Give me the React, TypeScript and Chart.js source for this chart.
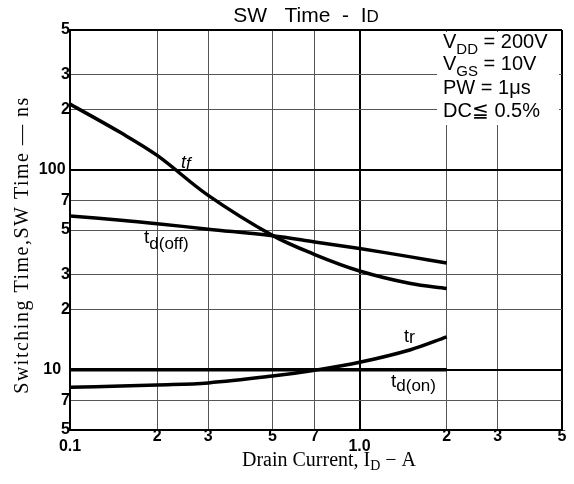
import React, { useEffect, useRef } from "react";
import { Chart, registerables } from "chart.js";

Chart.register(...registerables);

// ---- data ----
const drainCurrentA = [0.1, 0.15, 0.2, 0.3, 0.5, 0.7, 1.0, 1.5, 2];
const tfNs = [213, 153, 118, 74.5, 47, 37.7, 31.2, 27, 25.5];
const tdOffNs = [58.7, 56, 53.8, 50.5, 46.8, 43.6, 40.4, 36.7, 34.2];
const trNs = [8.17, 8.3, 8.4, 8.6, 9.3, 9.95, 10.9, 12.6, 14.6];
const tdOnNs = [10, 10, 10, 10, 10, 10, 10, 10, 10];

const xTickValues = [0.1, 0.2, 0.3, 0.5, 0.7, 1, 2, 3, 5];
const xTickLabels: (string | string[])[] = [["", "0.1"], "2", "3", "5", "7", ["", "1.0"], "2", "3", "5"];
const yTickValues = [5, 7, 10, 20, 30, 50, 70, 100, 200, 300, 500];
const yTickLabels = ["5", "7", "10  ", "2", "3", "5", "7", "100 ", "2", "3", "5"];

const conditionLines = [
  [{ t: "V", sub: false }, { t: "DD", sub: true }, { t: " = 200V", sub: false }],
  [{ t: "V", sub: false }, { t: "GS", sub: true }, { t: " = 10V", sub: false }],
  [{ t: "PW = 1\u03BCs", sub: false }],
  [{ t: "DC\u2266 0.5%", sub: false }],
];

const SANS = "'Liberation Sans', Arial, sans-serif";
const SERIF = "'Liberation Serif', 'Times New Roman', serif";

type Part = { t: string; font: string; dy?: number };

function drawParts(ctx: CanvasRenderingContext2D, parts: Part[], x: number, y: number, align: "left" | "center" = "left") {
  let total = 0;
  for (const p of parts) {
    ctx.font = p.font;
    total += ctx.measureText(p.t).width;
  }
  let cx = align === "center" ? x - total / 2 : x;
  ctx.textAlign = "left";
  ctx.textBaseline = "alphabetic";
  for (const p of parts) {
    ctx.font = p.font;
    ctx.fillText(p.t, cx, y + (p.dy || 0));
    cx += ctx.measureText(p.t).width;
  }
}

const textPlugin = {
  id: "textPlugin",
  beforeDatasetsDraw(chart: any) {
    const { ctx, chartArea } = chart;
    ctx.save();
    ctx.fillStyle = "#fff";
    ctx.fillRect(chartArea.right - 125, chartArea.top + 2, 122, 93);
    ctx.restore();
  },
  afterDatasetsDraw(chart: any) {
    const { ctx, chartArea } = chart;
    ctx.save();
    ctx.fillStyle = "#000";

    // title
    drawParts(ctx, [
      { t: "SW   Time  -  I", font: `21px ${SANS}` },
      { t: "D", font: `17px ${SANS}` },
    ], 306, 22, "center");

    // test conditions
    const baseX = chartArea.right - 119;
    const baselines = [48, 70, 94, 117];
    conditionLines.forEach((line, i) => {
      drawParts(
        ctx,
        line.map((p) => ({ t: p.t, font: p.sub ? `15px ${SANS}` : `20px ${SANS}`, dy: p.sub ? 6 : 0 })),
        baseX,
        baselines[i]
      );
    });

    // curve labels
    drawParts(ctx, [
      { t: "t", font: `italic 18px ${SANS}` },
      { t: "f", font: `italic 17px ${SANS}`, dy: 1 },
    ], 181, 168);
    drawParts(ctx, [
      { t: "t", font: `19px ${SANS}` },
      { t: "d(off)", font: `17px ${SANS}`, dy: 6 },
    ], 144, 243);
    drawParts(ctx, [
      { t: "t", font: `18px ${SANS}` },
      { t: "r", font: `18px ${SANS}`, dy: 1 },
    ], 404, 342);
    drawParts(ctx, [
      { t: "t", font: `19px ${SANS}` },
      { t: "d(on)", font: `17px ${SANS}`, dy: 4 },
    ], 391, 387);

    // x axis title
    drawParts(ctx, [
      { t: "Drain Current, I", font: `20px ${SERIF}` },
      { t: "D", font: `14px ${SERIF}`, dy: 4 },
      { t: " \u2212 A", font: `20px ${SERIF}` },
    ], 329, 466, "center");

    // y axis title
    ctx.translate(28, 245);
    ctx.rotate(-Math.PI / 2);
    (ctx as any).letterSpacing = "1.5px";
    drawParts(ctx, [{ t: "Switching Time,SW Time \u2014 ns", font: `20px ${SERIF}` }], 0, 0, "center");
    (ctx as any).letterSpacing = "0px";
    ctx.restore();
  },
};

function isDecade(v: number) {
  return v === 1 || v === 10 || v === 100;
}

export default function App() {
  const ref = useRef<HTMLCanvasElement | null>(null);

  useEffect(() => {
    if (!ref.current) return;
    const line = (data: number[]) => ({
      data: drainCurrentA.map((x, i) => ({ x, y: data[i] })),
      borderColor: "#000",
      borderWidth: 3.5,
      pointRadius: 0,
      fill: false,
      tension: 0.35,
    });
    const chart = new Chart(ref.current, {
      type: "line",
      data: {
        datasets: [line(tfNs), line(tdOffNs), line(trNs), line(tdOnNs)],
      },
      options: {
        animation: false,
        responsive: false,
        layout: { padding: { top: 30, right: 12, left: 0, bottom: 0 } },
        plugins: { legend: { display: false }, title: { display: false }, tooltip: { enabled: false } },
        scales: {
          x: {
            type: "logarithmic",
            min: 0.1,
            max: 5,
            afterBuildTicks: (s: any) => {
              s.ticks = xTickValues.map((v) => ({ value: v }));
            },
            afterFit: (s: any) => {
              s.height = 54;
            },
            ticks: {
              autoSkip: false,
              maxRotation: 0,
              minRotation: 0,
              padding: 1,
              color: "#000",
              font: { family: SANS, size: 16, weight: "bold", lineHeight: 0.65 },
              callback: (_v: any, i: number) => xTickLabels[i],
            },
            grid: {
              drawTicks: false,
              color: (c: any) => {
                const v = c.tick ? c.tick.value : 0;
                return isDecade(v) || v === 5 ? "#000" : "#555";
              },
              lineWidth: (c: any) => {
                const v = c.tick ? c.tick.value : 0;
                return isDecade(v) || v === 5 ? 2 : 1;
              },
            },
            border: { display: true, color: "#000", width: 2 },
          },
          y: {
            type: "logarithmic",
            min: 5,
            max: 500,
            afterBuildTicks: (s: any) => {
              s.ticks = yTickValues.map((v) => ({ value: v }));
            },
            afterFit: (s: any) => {
              s.width = 70;
            },
            ticks: {
              autoSkip: false,
              padding: 0,
              color: "#000",
              font: { family: SANS, size: 16, weight: "bold" },
              callback: (_v: any, i: number) => yTickLabels[i],
            },
            grid: {
              drawTicks: false,
              color: (c: any) => {
                const v = c.tick ? c.tick.value : 0;
                return isDecade(v) || v === 500 ? "#000" : "#555";
              },
              lineWidth: (c: any) => {
                const v = c.tick ? c.tick.value : 0;
                return isDecade(v) || v === 500 ? 2 : 1;
              },
            },
            border: { display: true, color: "#000", width: 2 },
          },
        },
      },
      plugins: [textPlugin],
    } as any);
    return () => chart.destroy();
  }, []);

  return (
    <div style={{ position: "absolute", left: 0, top: 0, width: 574, height: 484, background: "#fff" }}>
      <canvas ref={ref} width={574} height={484} style={{ display: "block" }} />
    </div>
  );
}
